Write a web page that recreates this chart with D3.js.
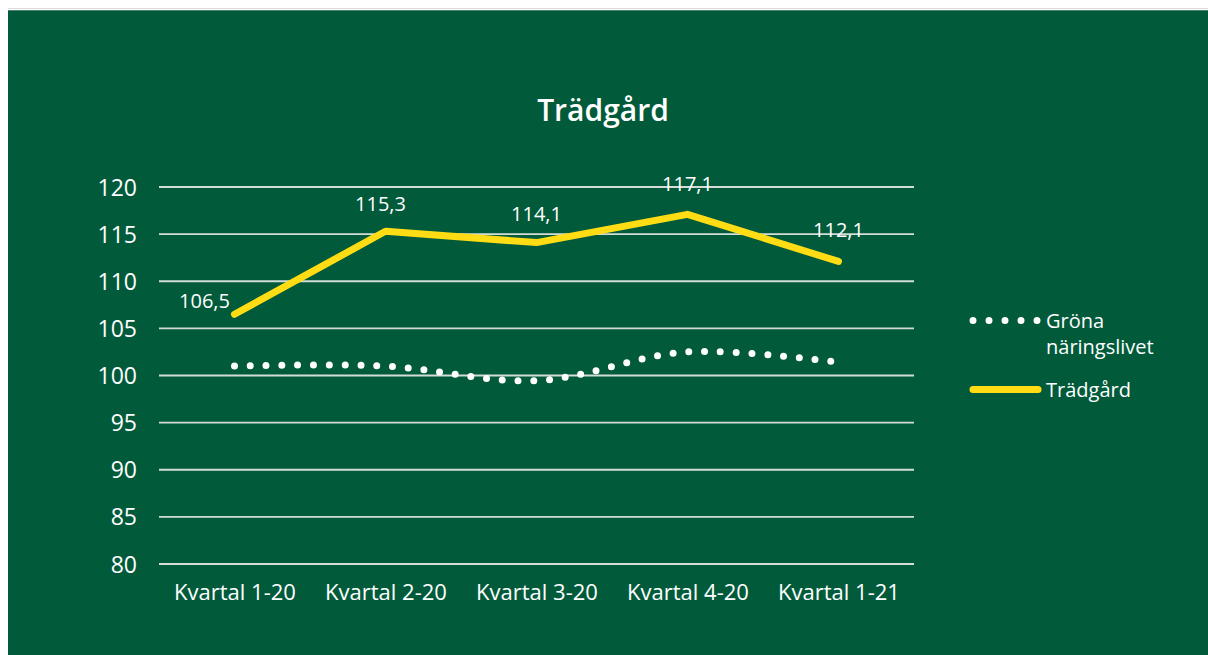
<!DOCTYPE html>
<html>
<head>
<meta charset="utf-8">
<script src="https://cdn.jsdelivr.net/npm/d3@7"></script>
<style>
	html, body { margin: 0; padding: 0; background: #ffffff; }
	svg { display: block; font-family: "Open Sans", sans-serif; }
</style>
</head>
<body>
<div id="chart"></div>
<script>
// Chart data
const quarters = ["Kvartal 1-20", "Kvartal 2-20", "Kvartal 3-20", "Kvartal 4-20", "Kvartal 1-21"];
const tradgard = [106.5, 115.3, 114.1, 117.1, 112.1];
const gronaNaringslivet = [101.0, 101.0, 99.45, 102.5, 101.4];
const yTicks = [80, 85, 90, 95, 100, 105, 110, 115, 120];
const seriesNames = ["Gröna näringslivet", "Trädgård"];
const chartTitle = "Trädgård";

const width = 1208, height = 655;
const green = "#015b3b";
const yellow = "#ffdc14";

const svg = d3.select("#chart")
	.append("svg")
	.attr("width", width)
	.attr("height", height);

// Background panel
svg.append("rect").attr("x", 8).attr("y", 10).attr("width", width - 8).attr("height", height - 10).attr("fill", green);
svg.append("line").attr("x1", 8).attr("x2", width).attr("y1", 8.5).attr("y2", 8.5).attr("stroke", "#dcdcdc").attr("stroke-width", 1);
svg.append("line").attr("x1", 8).attr("x2", width).attr("y1", 10.5).attr("y2", 10.5).attr("stroke", "#4f8570").attr("stroke-width", 1);

// Scales
const x = d3.scalePoint()
	.domain(quarters)
	.range([159, 914])
	.padding(0.5);

const y = d3.scaleLinear()
	.domain([80, 120])
	.range([564, 187]);

// Title
svg.append("text")
	.attr("x", 603)
	.attr("y", 121)
	.attr("text-anchor", "middle")
	.attr("fill", "#ffffff")
	.attr("font-size", 30)
	.attr("font-weight", 600)
	.text(chartTitle);

// Gridlines
svg.append("g")
	.selectAll("line")
	.data(yTicks)
	.enter()
	.append("line")
	.attr("x1", 159)
	.attr("x2", 914)
	.attr("y1", d => y(d))
	.attr("y2", d => y(d))
	.attr("stroke", "#d4dcd8")
	.attr("stroke-width", 1.8);

// Y axis labels
const yAxis = svg.append("g")
	.attr("transform", "translate(137,0)")
	.call(d3.axisLeft(y).tickValues(yTicks).tickSize(0).tickPadding(0));
yAxis.select(".domain").remove();
yAxis.selectAll("text")
	.attr("fill", "#ffffff")
	.attr("font-size", 23)
	.attr("font-family", "Open Sans, sans-serif")
	.attr("dy", "0.35em");

// X axis labels
const xAxis = svg.append("g")
	.attr("transform", "translate(0,564)")
	.call(d3.axisBottom(x).tickSize(0).tickPadding(0));
xAxis.select(".domain").remove();
xAxis.selectAll("text")
	.attr("fill", "#ffffff")
	.attr("font-size", 22)
	.attr("font-family", "Open Sans, sans-serif")
	.attr("dy", 0)
	.attr("y", 36);

// Gröna näringslivet: smoothed dotted line
const smoothLine = d3.line()
	.x((d, i) => x(quarters[i]))
	.y(d => y(d))
	.curve(d3.curveCardinal.tension(0));

svg.append("path")
	.datum(gronaNaringslivet)
	.attr("d", smoothLine)
	.attr("fill", "none")
	.attr("stroke", "#ffffff")
	.attr("stroke-width", 7)
	.attr("stroke-linecap", "round")
	.attr("stroke-dasharray", "0 15.8");

// Trädgård: straight yellow line
const straightLine = d3.line()
	.x((d, i) => x(quarters[i]))
	.y(d => y(d));

svg.append("path")
	.datum(tradgard)
	.attr("d", straightLine)
	.attr("fill", "none")
	.attr("stroke", yellow)
	.attr("stroke-width", 7)
	.attr("stroke-linecap", "round")
	.attr("stroke-linejoin", "round");

// Data labels (first one sits to the left of its point)
const labelDx = [-30, -5, 0, 0, 0];
const labelDy = [-6, -20, -22, -23, -24];
svg.append("g")
	.selectAll("text")
	.data(tradgard)
	.enter()
	.append("text")
	.attr("x", (d, i) => x(quarters[i]) + labelDx[i])
	.attr("y", (d, i) => y(d) + labelDy[i])
	.attr("text-anchor", "middle")
	.attr("fill", "#ffffff")
	.attr("font-size", 20)
	.text(d => d3.format(".1f")(d).replace(".", ","));

// Legend
const legend = svg.append("g");
legend.append("line")
	.attr("x1", 973).attr("x2", 1040)
	.attr("y1", 320.5).attr("y2", 320.5)
	.attr("stroke", "#ffffff")
	.attr("stroke-width", 7)
	.attr("stroke-linecap", "round")
	.attr("stroke-dasharray", "0 16");
const gronaText = legend.append("text")
	.attr("x", 1046)
	.attr("y", 328)
	.attr("fill", "#ffffff")
	.attr("font-size", 20);
gronaText.append("tspan").attr("x", 1046).text(seriesNames[0].split(" ")[0]);
gronaText.append("tspan").attr("x", 1046).attr("dy", 26).text(seriesNames[0].split(" ")[1]);

legend.append("line")
	.attr("x1", 973).attr("x2", 1038)
	.attr("y1", 389.5).attr("y2", 389.5)
	.attr("stroke", yellow)
	.attr("stroke-width", 7)
	.attr("stroke-linecap", "round");
legend.append("text")
	.attr("x", 1046)
	.attr("y", 397)
	.attr("fill", "#ffffff")
	.attr("font-size", 20)
	.text(seriesNames[1]);
</script>
</body>
</html>
